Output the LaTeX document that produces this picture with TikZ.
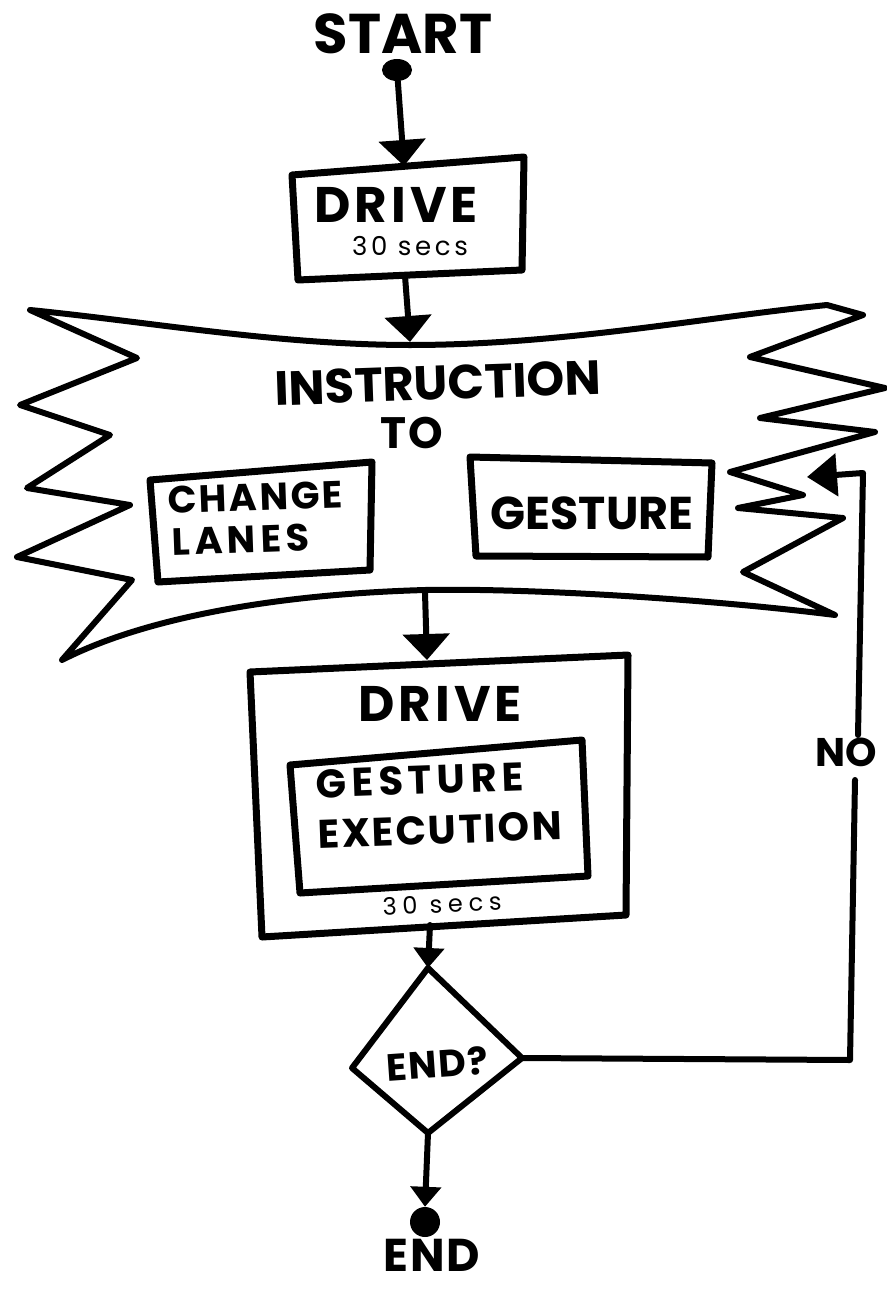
\documentclass[tikz,border=0pt]{standalone}
\usepackage{fontspec}
\setmainfont{Poppins}
\usetikzlibrary{arrows.meta,shapes.geometric}
\newcommand\trk[1]{\addfontfeatures{LetterSpace=#1}}
\begin{document}
\begin{tikzpicture}[x=1pt,y=-1pt,line join=round,line cap=round,
  box/.style={line width=7pt},
  band/.style={line width=6pt},
  wire/.style={line width=6pt},
  bigarrow/.style={wire,-{Triangle[width=46pt,length=26pt]}},
  smallarrow/.style={wire,-{Triangle[width=30pt,length=20pt]}},
  title/.style={inner sep=0pt,font=\bfseries\fontsize{#1}{#1}\selectfont},
  title/.default=50,
  thin/.style={inner sep=0pt,font=\fontsize{#1}{#1}\selectfont},
  thin/.default=26]
\useasboundingbox (0,0) rectangle (886,1292);

% ---- start
\node[title=56] (start) at (403,34) {START};
\node[ellipse,fill,inner sep=0pt,minimum width=30pt,minimum height=22pt] (startdot) at (397,70) {};

% ---- first drive box
\coordinate (a1) at (292,175); \coordinate (b1) at (524,157);
\coordinate (c1) at (522,270); \coordinate (e1) at (298,280);
\draw[box] (a1) -- (b1) -- (c1) -- (e1) -- cycle;
\coordinate (d1top) at (404,166);
\coordinate (d1bot) at (405,276);
\node[title=50] (drive1) at (396,205) {\trk{8}DRIVE};
\node[thin=26] (secs1) at (410,246) {\trk{14}30 secs};
\draw[bigarrow] (startdot) -- (d1top);

% ---- banner
\draw[band] (30,310) .. controls (150,322) and (280,345) .. (410,345)
  .. controls (560,345) and (700,318) .. (827,305)
  -- (863,315) -- (750,357) -- (885,388) -- (760,418) -- (875,432)
  -- (730,472) -- (803,495) -- (738,508) -- (843,518) -- (743,572)
  -- (835,615) .. controls (700,598) and (520,588) .. (425,590)
  .. controls (250,595) and (130,625) .. (62,660)
  -- (132,580) -- (17,557) -- (130,505) -- (27,488) -- (110,435)
  -- (20,405) -- (137,358) -- cycle;
\coordinate (bantop) at (410,342);
\coordinate (banbot) at (425,593);
\draw[bigarrow] (d1bot) -- (bantop);
\node[title=48,rotate=2] (instr) at (438,383) {INSTRUCTION};
\node[title=44] (to) at (412,433) {\trk{6}TO};

\coordinate (a2) at (150,480); \coordinate (b2) at (372,462);
\coordinate (c2) at (370,570); \coordinate (e2) at (158,582);
\draw[box] (a2) -- (b2) -- (c2) -- (e2) -- cycle;
\node[title=38,anchor=west,rotate=2] (change) at (168,500) {\trk{6}CHANGE};
\node[title=38,anchor=west,rotate=2] (lanes) at (172,542) {\trk{12}LANES};

\coordinate (a3) at (470,457); \coordinate (b3) at (712,463);
\coordinate (c3) at (708,557); \coordinate (e3) at (476,556);
\draw[box] (a3) -- (b3) -- (c3) -- (e3) -- cycle;
\node[title=46] (gesture) at (592,513) {GESTURE};

% ---- second drive box
\coordinate (a4) at (250,672); \coordinate (b4) at (628,655);
\coordinate (c4) at (626,915); \coordinate (e4) at (262,937);
\draw[box] (a4) -- (b4) -- (c4) -- (e4) -- cycle;
\coordinate (d2top) at (427,660);
\coordinate (d2bot) at (430,925);
\draw[bigarrow] (banbot) -- (d2top);
\node[title=50] (drive2) at (440,704) {\trk{8}DRIVE};

\coordinate (a5) at (290,765); \coordinate (b5) at (582,740);
\coordinate (c5) at (588,876); \coordinate (e5) at (300,893);
\draw[box] (a5) -- (b5) -- (c5) -- (e5) -- cycle;
\node[title=40,anchor=west,rotate=2] (gest2) at (316,784) {\trk{13}GESTURE};
\node[title=40,anchor=west,rotate=2] (exec) at (318,834) {\trk{5}EXECUTION};
\node[thin=24,rotate=3] (secs2) at (442,904) {\trk{24}30 secs};

% ---- decision
\coordinate (dtop) at (428,968); \coordinate (dright) at (522,1058);
\coordinate (dbot) at (428,1133); \coordinate (dleft) at (352,1068);
\draw[band] (dtop) -- (dright) -- (dbot) -- (dleft) -- cycle;
\node[title=38,rotate=4] (endq) at (437,1064) {\trk{4}END?};
\draw[smallarrow] (d2bot) -- (dtop);

% ---- end
\node[circle,fill,inner sep=0pt,minimum size=30pt] (enddot) at (425,1222) {};
\draw[smallarrow] (dbot) -- (enddot.north);
\node[title=46] (endtxt) at (432,1255) {\trk{4}END};

% ---- loop back
\node[title=40] (no) at (846,752) {NO};
\coordinate (lc1) at (850,1060);
\coordinate (nob) at (855,780);
\coordinate (not) at (858,735);
\coordinate (lc2) at (863,473);
\coordinate (looptip) at (807,477);
\draw[wire] (dright) -- (lc1) -- (nob);
\draw[wire,-{Triangle[width=42pt,length=30pt]}] (not) -- (lc2) -- (looptip);
\end{tikzpicture}
\end{document}
